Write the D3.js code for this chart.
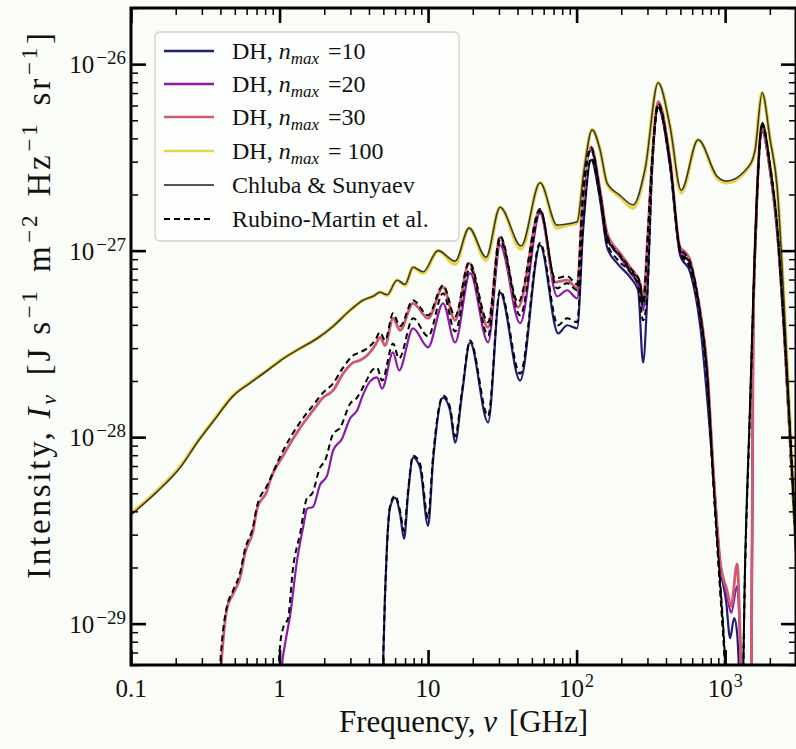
<!DOCTYPE html>
<html>
<head>
<meta charset="utf-8">
<script src="https://cdn.jsdelivr.net/npm/d3@7"></script>
<style>
  html, body { margin: 0; padding: 0; background: #f9fcf7; }
  svg { display: block; }
  text { font-family: "Liberation Serif", "Times New Roman", serif; fill: #111; }
</style>
</head>
<body>
<svg id="chart" width="796" height="749"></svg>
<script>
// Recombination line spectrum: frequency [GHz] vs intensity [J s^-1 m^-2 Hz^-1 sr^-1]

// DH, n_max = 10
const dh10Nu = [4.9, 4.977, 5.133, 5.295, 5.547, 5.994, 6.476, 6.894, 7.334, 7.925, 8.834, 10.0, 10.81, 12.62, 14.07, 15.2, 16.94, 19.18, 25.35, 30.53, 41.64, 56.78, 75.07, 86.3, 100.8, 110.6, 125.2, 143.9, 160.5, 187.4, 229.3, 259.5, 280.4, 298.4, 322.4, 353.9, 426.1, 497.7, 581.1, 678.6, 830.6, 925.6, 1015.5, 1080.7, 1149.9, 1204.5, 1281.6, 1497, 1544, 1617, 1775, 2009, 2240, 2496, 3000];
const dh10I = [3.0e-30, 5.9e-30, 1.44e-29, 2.68e-29, 4.18e-29, 4.73e-29, 3.88e-29, 2.85e-29, 4.97e-29, 7.76e-29, 6.86e-29, 3.34e-29, 7.48e-29, 1.63e-28, 1.39e-28, 9.34e-29, 1.71e-28, 3.22e-28, 1.20e-28, 5.98e-28, 2.01e-28, 1.07e-27, 3.60e-28, 3.98e-28, 3.83e-28, 1.29e-27, 3.07e-27, 1.87e-27, 1.04e-27, 8.57e-28, 7.20e-28, 6.13e-28, 2.51e-28, 5.42e-28, 2.71e-27, 5.84e-27, 2.81e-27, 9.46e-28, 7.66e-28, 3.98e-28, 6.44e-29, 2.04e-29, 1.32e-29, 8.36e-30, 1.07e-29, 8.89e-30, 3.8e-30, 3.8e-30, 3.51e-28, 1.37e-27, 4.34e-27, 2.64e-27, 1.26e-27, 3.65e-28, 2.39e-29];

// DH, n_max = 20
const dh20Nu = [1.024, 1.039, 1.089, 1.177, 1.311, 1.439, 1.532, 1.681, 1.874, 2.089, 2.293, 2.636, 2.984, 3.326, 3.65, 4.068, 4.535, 4.9, 5.811, 6.376, 7.925, 10.0, 12.62, 15.2, 19.18, 25.35, 30.53, 41.64, 56.78, 73.92, 86.3, 100.8, 110.6, 125.2, 143.9, 160.5, 196.3, 229.3, 267.7, 280.4, 303, 322.4, 353.9, 426.1, 497.7, 581.1, 678.6, 756.5, 830.6, 925.6, 1031.6, 1097.6, 1204.5, 1261.9, 1301.7, 1497, 1544, 1617, 1775, 2009, 2240, 2496, 3000];
const dh20I = [3.0e-30, 5.9e-30, 7.76e-30, 1.10e-29, 2.17e-29, 3.26e-29, 4.13e-29, 4.23e-29, 5.55e-29, 6.21e-29, 8.46e-29, 9.81e-29, 1.26e-28, 1.39e-28, 1.69e-28, 1.99e-28, 2.09e-28, 1.82e-28, 2.85e-28, 2.28e-28, 3.83e-28, 3.03e-28, 5.22e-28, 3.22e-28, 7.57e-28, 3.22e-28, 1.07e-27, 4.08e-28, 1.59e-27, 5.69e-28, 6.13e-28, 5.55e-28, 1.87e-27, 3.47e-27, 2.04e-27, 1.18e-27, 9.23e-28, 7.66e-28, 6.13e-28, 4.79e-28, 1.21e-27, 2.95e-27, 6.13e-27, 2.95e-27, 1.0e-27, 8.46e-28, 4.50e-28, 2.28e-28, 6.77e-29, 2.11e-29, 1.41e-29, 1.14e-29, 1.59e-29, 8.05e-30, 3.8e-30, 3.8e-30, 3.74e-28, 1.42e-27, 4.50e-27, 2.71e-27, 1.29e-27, 3.74e-28, 2.45e-29];

// DH, n_max = 30
const dh30Nu = [0.39, 0.404, 0.41, 0.443, 0.486, 0.542, 0.586, 0.663, 0.706, 0.824, 0.863, 1.056, 1.374, 1.681, 1.963, 2.293, 2.677, 3.126, 3.484, 3.884, 4.396, 4.751, 5.133, 5.811, 6.476, 7.925, 10.0, 12.62, 15.2, 18.89, 25.35, 30.53, 40.37, 56.78, 71.66, 86.3, 100.8, 110.6, 125.2, 143.9, 160.5, 196.3, 229.3, 267.7, 280.4, 303, 322.4, 353.9, 426.1, 497.7, 537.8, 581.1, 647.6, 678.6, 756.5, 830.6, 925.6, 1031.6, 1097.6, 1204.5, 1261.9, 1301.7, 1497, 1544, 1617, 1775, 2009, 2240, 2496, 3000];
const dh30I = [3.0e-30, 5.9e-30, 6.9e-30, 1.21e-29, 1.44e-29, 1.76e-29, 2.39e-29, 3.14e-29, 4.13e-29, 5.16e-29, 5.84e-29, 7.95e-29, 1.12e-28, 1.39e-28, 1.63e-28, 1.78e-28, 2.19e-28, 2.51e-28, 2.58e-28, 2.74e-28, 3.10e-28, 3.43e-28, 3.10e-28, 4.34e-28, 3.74e-28, 5.22e-28, 4.34e-28, 6.37e-28, 4.23e-28, 8.57e-28, 3.88e-28, 1.18e-27, 4.97e-28, 1.65e-27, 6.77e-28, 6.94e-28, 6.29e-28, 2.11e-27, 3.60e-27, 2.11e-27, 1.24e-27, 9.69e-28, 8.15e-28, 6.69e-28, 5.42e-28, 1.29e-27, 3.07e-27, 6.29e-27, 3.07e-27, 1.04e-27, 9.81e-28, 8.89e-28, 5.91e-28, 4.79e-28, 2.36e-28, 6.86e-29, 2.17e-29, 1.50e-29, 1.24e-29, 2.09e-29, 8.78e-30, 3.8e-30, 3.8e-30, 3.74e-28, 1.46e-27, 4.56e-27, 2.71e-27, 1.29e-27, 3.74e-28, 2.45e-29];

// DH, n_max = 100
const dh100Nu = [0.1, 0.15, 0.214, 0.283, 0.368, 0.486, 0.633, 0.824, 1.056, 1.374, 1.788, 2.293, 2.984, 3.65, 4.262, 4.751, 5.295, 6.182, 7.0, 7.925, 9.254, 11.68, 15.2, 18.89, 24.58, 30.53, 42.3, 56.78, 73.92, 86.3, 100.8, 112.3, 127.2, 143.9, 160.5, 196.3, 240.2, 289.3, 353.9, 426.1, 505.5, 658.0, 883.6, 1015.5, 1474, 1592, 1775, 2009, 2240, 2496, 3000];
const dh100I = [3.9e-29, 5.16e-29, 6.94e-29, 9.57e-29, 1.26e-28, 1.67e-28, 1.96e-28, 2.28e-28, 2.64e-28, 2.99e-28, 3.38e-28, 3.93e-28, 4.79e-28, 5.42e-28, 5.69e-28, 5.98e-28, 5.76e-28, 6.94e-28, 6.52e-28, 8.15e-28, 7.57e-28, 1.0e-27, 8.46e-28, 1.32e-27, 8.89e-28, 1.71e-27, 1.02e-27, 2.31e-27, 1.32e-27, 1.37e-27, 1.41e-27, 2.71e-27, 4.44e-27, 3.47e-27, 2.28e-27, 1.94e-27, 1.69e-27, 2.71e-27, 7.95e-27, 4.61e-27, 2.04e-27, 3.93e-27, 2.45e-27, 2.31e-27, 2.88e-27, 3.47e-27, 7.03e-27, 3.93e-27, 2.19e-27, 5.1e-28, 2.6e-29];

// Chluba & Sunyaev
const csNu = [0.1, 0.15, 0.214, 0.283, 0.368, 0.486, 0.633, 0.824, 1.056, 1.374, 1.788, 2.293, 2.984, 3.65, 4.262, 4.751, 5.295, 6.182, 7.0, 7.925, 9.254, 11.68, 15.2, 18.89, 24.58, 30.53, 42.3, 56.78, 73.92, 86.3, 100.8, 112.3, 127.2, 143.9, 160.5, 196.3, 240.2, 289.3, 353.9, 426.1, 505.5, 658.0, 883.6, 1015.5, 1474, 1592, 1775, 2009, 2240, 2496, 3000];
const csI = [3.83e-29, 5.1e-29, 6.85e-29, 9.5e-29, 1.25e-28, 1.66e-28, 1.95e-28, 2.27e-28, 2.63e-28, 2.99e-28, 3.38e-28, 3.93e-28, 4.79e-28, 5.42e-28, 5.69e-28, 5.98e-28, 5.8e-28, 6.94e-28, 6.6e-28, 8.15e-28, 7.7e-28, 1.0e-27, 8.78e-28, 1.32e-27, 9.23e-28, 1.71e-27, 1.06e-27, 2.31e-27, 1.37e-27, 1.39e-27, 1.43e-27, 2.71e-27, 4.44e-27, 3.47e-27, 2.3e-27, 1.98e-27, 1.76e-27, 2.75e-27, 7.95e-27, 4.61e-27, 2.11e-27, 3.93e-27, 2.5e-27, 2.36e-27, 2.9e-27, 3.47e-27, 7.03e-27, 3.93e-27, 2.19e-27, 5.1e-28, 2.6e-29];

// Rubino-Martin et al., n_max = 10, 20, 30
const rm10Nu = [4.9, 4.977, 5.133, 5.295, 5.547, 5.994, 6.476, 6.894, 7.334, 7.925, 8.834, 10.0, 10.81, 12.62, 14.07, 15.2, 16.94, 19.18, 25.35, 30.53, 41.64, 56.78, 75.07, 86.3, 100.8, 110.6, 125.2, 143.9, 160.5, 187.4, 229.3, 259.5, 280.4, 298.4, 322.4, 353.9, 426.1, 497.7, 581.1, 678.6, 756.5, 830.6, 925.6, 984.7, 1031.6, 1301.7, 1363.7, 1474, 1544, 1642, 1775, 2009, 2240, 2496, 3000];
const rm10I = [3.0e-30, 5.9e-30, 1.41e-29, 2.61e-29, 4.28e-29, 4.85e-29, 4.03e-29, 3.14e-29, 5.16e-29, 7.95e-29, 7.20e-29, 3.69e-29, 7.95e-29, 1.67e-28, 1.44e-28, 1.01e-28, 1.78e-28, 3.30e-28, 1.30e-28, 6.13e-28, 2.19e-28, 1.10e-27, 3.98e-28, 4.34e-28, 4.13e-28, 1.37e-27, 3.14e-27, 1.92e-27, 1.10e-27, 9.00e-28, 7.66e-28, 6.52e-28, 4.23e-28, 5.76e-28, 2.78e-27, 5.91e-27, 2.88e-27, 9.81e-28, 8.05e-28, 4.34e-28, 2.06e-28, 5.84e-29, 1.50e-29, 7.11e-30, 3.8e-30, 3.8e-30, 2.04e-29, 1.48e-28, 5.09e-28, 1.99e-27, 4.67e-27, 2.78e-27, 1.32e-27, 3.74e-28, 2.45e-29];

const rm20Nu = [0.977, 0.992, 1.008, 1.056, 1.141, 1.233, 1.374, 1.532, 1.655, 1.874, 2.025, 2.293, 2.556, 2.984, 3.326, 3.765, 4.196, 4.535, 4.9, 5.811, 6.376, 7.925, 10.0, 12.62, 15.2, 19.18, 25.35, 30.53, 41.64, 56.78, 73.92, 86.3, 100.8, 110.6, 125.2, 143.9, 160.5, 196.3, 229.3, 267.7, 280.4, 303, 322.4, 353.9, 426.1, 497.7, 581.1, 678.6, 756.5, 830.6, 925.6, 984.7, 1031.6, 1301.7, 1363.7, 1474, 1544, 1642, 1775, 2009, 2240, 2496, 3000];
const rm20I = [3.0e-30, 6.28e-30, 7.57e-30, 9.46e-30, 1.07e-29, 1.99e-29, 3.03e-29, 4.73e-29, 4.97e-29, 6.86e-29, 7.48e-29, 1.04e-28, 1.12e-28, 1.51e-28, 1.63e-28, 1.94e-28, 2.28e-28, 2.36e-28, 2.01e-28, 3.18e-28, 2.64e-28, 4.34e-28, 3.47e-28, 5.91e-28, 3.69e-28, 8.05e-28, 3.51e-28, 1.14e-27, 4.50e-28, 1.63e-27, 6.29e-28, 6.69e-28, 6.13e-28, 1.99e-27, 3.47e-27, 2.01e-27, 1.17e-27, 9.34e-28, 7.85e-28, 6.52e-28, 5.09e-28, 1.26e-27, 2.99e-27, 5.98e-27, 2.92e-27, 1.0e-27, 8.46e-28, 4.56e-28, 2.14e-28, 5.98e-29, 1.59e-29, 7.57e-30, 3.8e-30, 3.8e-30, 2.11e-29, 1.53e-28, 5.28e-28, 2.06e-27, 4.79e-27, 2.85e-27, 1.35e-27, 3.79e-28, 2.48e-29];

const rm30Nu = [0.385, 0.398, 0.41, 0.443, 0.486, 0.542, 0.586, 0.663, 0.706, 0.824, 1.056, 1.374, 1.681, 1.963, 2.293, 2.677, 3.126, 3.484, 3.884, 4.396, 4.751, 5.133, 5.811, 6.476, 7.925, 10.0, 12.62, 15.2, 18.89, 25.35, 30.53, 40.37, 56.78, 71.66, 86.3, 100.8, 110.6, 125.2, 143.9, 160.5, 196.3, 229.3, 267.7, 280.4, 303, 322.4, 353.9, 426.1, 497.7, 537.8, 581.1, 678.6, 756.5, 830.6, 925.6, 984.7, 1031.6, 1301.7, 1363.7, 1474, 1544, 1642, 1775, 2009, 2240, 2496, 3000];
const rm30I = [3.0e-30, 5.9e-30, 8.05e-30, 1.24e-29, 1.50e-29, 1.87e-29, 2.51e-29, 3.30e-29, 4.28e-29, 5.49e-29, 8.46e-29, 1.20e-28, 1.48e-28, 1.73e-28, 1.94e-28, 2.36e-28, 2.74e-28, 2.85e-28, 2.99e-28, 3.30e-28, 3.65e-28, 3.30e-28, 4.61e-28, 3.93e-28, 5.42e-28, 4.50e-28, 6.52e-28, 4.44e-28, 8.67e-28, 4.13e-28, 1.20e-27, 5.28e-28, 1.67e-27, 7.11e-28, 7.29e-28, 6.60e-28, 2.11e-27, 3.56e-27, 2.06e-27, 1.20e-27, 9.46e-28, 8.05e-28, 6.77e-28, 5.22e-28, 1.29e-27, 3.07e-27, 6.13e-27, 2.99e-27, 1.03e-27, 9.57e-28, 8.67e-28, 4.67e-28, 2.22e-28, 6.21e-29, 1.69e-29, 8.05e-30, 3.8e-30, 3.8e-30, 2.17e-29, 1.57e-28, 5.42e-28, 2.11e-27, 4.85e-27, 2.88e-27, 1.37e-27, 3.83e-28, 2.51e-29];

// Axis ticks
const xMajorTicks = [0.1, 1, 10, 100, 1000];
const xTickLabels = [["0.1", ""], ["1", ""], ["10", ""], ["10", "2"], ["10", "3"]];
const yMajorTicks = [1e-29, 1e-28, 1e-27, 1e-26];
const yTickLabels = [["10", "\u221229"], ["10", "\u221228"], ["10", "\u221227"], ["10", "\u221226"]];

// Legend entries
const legendLabels = ["=10", "=20", "=30", "= 100", "Chluba & Sunyaev", "Rubino-Martin et al."];

const svg = d3.select("#chart");
const L = 131, R = 796, T = 8, B = 665;

const x = d3.scaleLog().domain([0.1, 3000]).range([L, R]);
const y = d3.scaleLog().domain([6e-30, 2e-26]).range([B, T]);

svg.append("rect").attr("width", 796).attr("height", 749).attr("fill", "#f9fcf7");

svg.append("defs").append("clipPath").attr("id", "plotClip")
  .append("rect").attr("x", L).attr("y", T).attr("width", R - L).attr("height", B - T);

const line = d3.line()
  .x(d => x(d[0]))
  .y(d => y(d[1]))
  .curve(d3.curveMonotoneX);

const zip = (a, b) => a.map((v, i) => [v, b[i]]);

const series = [
  { nu: dh10Nu, I: dh10I, color: "#231d73", width: 2.2, dash: null },
  { nu: dh20Nu, I: dh20I, color: "#8b1ca8", width: 2.2, dash: null },
  { nu: dh30Nu, I: dh30I, color: "#cf5b70", width: 2.8, dash: null },
  { nu: dh100Nu, I: dh100I, color: "#e8d44a", width: 3.6, dash: null },
  { nu: csNu, I: csI, color: "#3a3a30", width: 1.6, dash: null },
  { nu: rm10Nu, I: rm10I, color: "#000", width: 2.0, dash: "6,4" },
  { nu: rm20Nu, I: rm20I, color: "#000", width: 2.0, dash: "6,4" },
  { nu: rm30Nu, I: rm30I, color: "#000", width: 2.0, dash: "6,4" }
];

const plot = svg.append("g").attr("clip-path", "url(#plotClip)");
series.forEach(s => {
  plot.append("path")
    .datum(zip(s.nu, s.I))
    .attr("d", line)
    .attr("fill", "none")
    .attr("stroke", s.color)
    .attr("stroke-width", s.width)
    .attr("stroke-dasharray", s.dash)
    .attr("stroke-linejoin", "round");
});

// minor tick positions
const xMinor = [];
[0.1, 1, 10, 100, 1000].forEach(d => { for (let k = 2; k <= 9; k++) { const v = d * k; if (v <= 3000) xMinor.push(v); } });
const yMinor = [];
[1e-30, 1e-29, 1e-28, 1e-27, 1e-26].forEach(d => { for (let k = 2; k <= 9; k++) { const v = d * k; if (v >= 6e-30 && v <= 2e-26) yMinor.push(v); } });

function styleAxis(g, w) {
  g.select(".domain").remove();
  g.selectAll(".tick line").attr("stroke", "#000").attr("stroke-width", w);
  g.selectAll(".tick text").remove();
}

// inward ticks on all four sides
[[d3.axisTop, `translate(0,${B})`], [d3.axisBottom, `translate(0,${T})`]].forEach(([ax, tr]) => {
  svg.append("g").attr("transform", tr).call(ax(x).tickValues(xMajorTicks).tickSize(15)).call(g => styleAxis(g, 2.6));
  svg.append("g").attr("transform", tr).call(ax(x).tickValues(xMinor).tickSize(7)).call(g => styleAxis(g, 1.5));
});
[[d3.axisRight, `translate(${L},0)`], [d3.axisLeft, `translate(${R},0)`]].forEach(([ax, tr]) => {
  svg.append("g").attr("transform", tr).call(ax(y).tickValues(yMajorTicks).tickSize(15)).call(g => styleAxis(g, 2.6));
  svg.append("g").attr("transform", tr).call(ax(y).tickValues(yMinor).tickSize(7)).call(g => styleAxis(g, 1.5));
});

svg.append("rect").attr("x", L).attr("y", T).attr("width", R - L).attr("height", B - T)
  .attr("fill", "none").attr("stroke", "#000").attr("stroke-width", 3);

// tick labels
xMajorTicks.forEach((v, i) => {
  const t = svg.append("text").attr("x", x(v)).attr("y", 697).attr("text-anchor", "middle").attr("font-size", 25);
  t.append("tspan").text(xTickLabels[i][0]);
  if (xTickLabels[i][1]) t.append("tspan").attr("dy", -10).attr("dx", 1).attr("font-size", 18).text(xTickLabels[i][1]);
});
yMajorTicks.forEach((v, i) => {
  const t = svg.append("text").attr("x", 126).attr("y", y(v) + 9).attr("text-anchor", "end").attr("font-size", 25);
  t.append("tspan").text(yTickLabels[i][0]);
  t.append("tspan").attr("dy", -9).attr("dx", 2).attr("font-size", 19).text(yTickLabels[i][1]);
});

// axis titles
svg.append("text").attr("x", (L + R) / 2).attr("y", 732).attr("text-anchor", "middle").attr("font-size", 31)
  .call(t => {
    t.append("tspan").text("Frequency, ");
    t.append("tspan").attr("font-style", "italic").text("\u03bd");
    t.append("tspan").attr("dx", 4).text(" [GHz]");
  });

const yl = svg.append("text").attr("transform", "translate(50,306) rotate(-90)")
  .attr("text-anchor", "middle").attr("font-size", 33)
  .attr("textLength", 546).attr("lengthAdjust", "spacing");
yl.append("tspan").text("Intensity, ");
yl.append("tspan").attr("font-style", "italic").text("I");
yl.append("tspan").attr("font-style", "italic").attr("font-size", 22).attr("dy", 6).text("\u03bd");
yl.append("tspan").attr("dy", -6).attr("dx", 6).text(" [J s");
[["\u22121", " m"], ["\u22122", " Hz"], ["\u22121", " sr"], ["\u22121", "]"]].forEach(([sup, after]) => {
  yl.append("tspan").attr("dy", -13).attr("dx", 1).attr("font-size", 23).text(sup);
  yl.append("tspan").attr("dy", 13).attr("dx", after === "]" ? 1 : 5).text(after);
});

// legend
const lg = svg.append("g");
lg.append("rect").attr("x", 155).attr("y", 32).attr("width", 304).attr("height", 209).attr("rx", 5)
  .attr("fill", "#fcfefc").attr("stroke", "#cfd2cf").attr("stroke-width", 1.3);
const rowY = [51, 84, 117, 151, 185, 219];
series.slice(0, 6).forEach((s, i) => {
  lg.append("line").attr("x1", 164).attr("x2", 214).attr("y1", rowY[i]).attr("y2", rowY[i])
    .attr("stroke", i === 4 ? "#555" : s.color).attr("stroke-width", i < 4 ? 2.6 : 1.8)
    .attr("stroke-dasharray", s.dash);
  const t = lg.append("text").attr("x", 232).attr("y", rowY[i] + 8).attr("font-size", 24);
  if (i < 4) {
    t.append("tspan").text("DH, ");
    t.append("tspan").attr("font-style", "italic").text("n");
    t.append("tspan").attr("font-style", "italic").attr("font-size", 17).attr("dy", 5).text("max");
    t.append("tspan").attr("dy", -5).attr("dx", 3).text(" " + legendLabels[i]);
  } else {
    t.text(legendLabels[i]);
  }
});
</script>
</body>
</html>
